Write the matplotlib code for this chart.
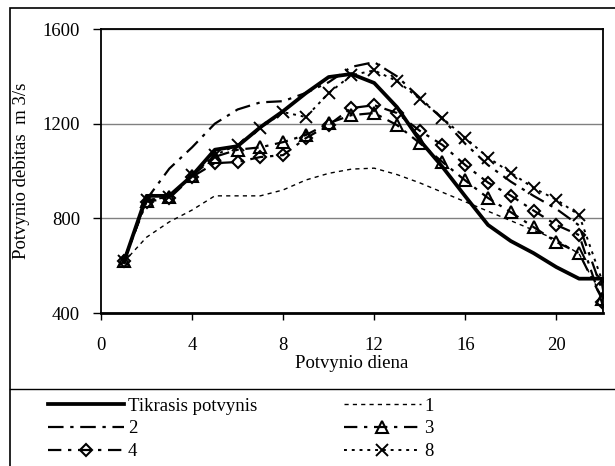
import matplotlib
matplotlib.use("Agg")
import matplotlib.pyplot as plt
from matplotlib.patches import Rectangle
from matplotlib.lines import Line2D

days = list(range(1, 24))
tikrasis = [615, 895, 895, 980, 1090, 1105, 1185, 1253, 1329, 1397, 1410, 1372,
            1270, 1130, 1017, 893, 772, 704, 653, 594, 545, 545, 0]
s1 = [615, 720, 785, 835, 895, 895, 895, 920, 962, 990, 1008, 1012,
      985, 950, 910, 870, 830, 790, 750, 710, 650, 470, 0]
s2 = [615, 880, 1010, 1100, 1200, 1260, 1290, 1295, 1330, 1375, 1440, 1460,
      1400, 1310, 1220, 1115, 1025, 955, 895, 840, 770, 500, 0]
s3 = [620, 875, 890, 980, 1060, 1090, 1100, 1122, 1152, 1202, 1236, 1245,
      1194, 1118, 1038, 960, 886, 826, 763, 700, 653, 460, 0]
s4 = [620, 870, 885, 975, 1033, 1038, 1059, 1067, 1139, 1194, 1266, 1278,
      1245, 1170, 1110, 1025, 951, 896, 833, 772, 729, 445, 0]
s8 = [620, 877, 890, 982, 1067, 1110, 1181, 1249, 1228, 1329, 1405, 1425,
      1380, 1305, 1223, 1140, 1057, 993, 928, 879, 814, 540, 0]

labels = ["Tikrasis potvynis", "1", "2", "3", "4", "8"]
xticks = [0, 4, 8, 12, 16, 20]
yticks = [400, 800, 1200, 1600]

plt.rcParams['font.family'] = ['Liberation Serif', 'DejaVu Serif']
FS = 13.5

fig = plt.figure(figsize=(6.15, 4.66), dpi=100)
W, H = 615, 466
ax = fig.add_axes([101 / W, (H - 313) / H, (603 - 101) / W, (313 - 29) / H])

h0, = ax.plot(days, tikrasis, color='black', lw=2.7, solid_joinstyle='round')
h1, = ax.plot(days, s1, color='black', lw=1.0, dashes=(3, 3))
h2, = ax.plot(days, s2, color='black', lw=1.6, dashes=(7, 3, 1.5, 3))
h3, = ax.plot(days, s3, color='black', lw=1.6, dashes=(6, 3, 1.5, 3),
              marker='^', ms=8.5, mfc='none', mec='black', mew=1.5)
h4, = ax.plot(days, s4, color='black', lw=1.6, dashes=(6, 3, 1.5, 3),
              marker='D', ms=6.5, mfc='none', mec='black', mew=1.5)
h8, = ax.plot(days, s8, color='black', lw=1.4, dashes=(1.5, 2.5),
              marker='x', ms=9, mec='black', mew=1.4)

ax.set_xlim(0, 22.05)
ax.set_ylim(400, 1600)
ax.set_xticks(xticks)
ax.set_yticks(yticks)
ax.set_xticklabels([str(t) for t in xticks], fontsize=FS)
ax.set_yticklabels([str(t) for t in yticks], fontsize=FS)
ax.tick_params(axis='x', direction='out', length=5, width=1, color='black', pad=12)
ax.tick_params(axis='y', direction='out', length=6, width=1, color='black', pad=9)
ax.yaxis.grid(True, color='#808080', lw=1)
ax.set_axisbelow(True)
for side in ['left', 'right', 'top']:
    ax.spines[side].set_linewidth(1.3)
ax.spines['bottom'].set_linewidth(2)
ax.set_xlabel("Potvynio diena", fontsize=FS, labelpad=1)
ax.set_ylabel("Potvynio debitas  m 3/s", fontsize=FS)
ax.yaxis.set_label_coords(-0.142, 0.5)

# outer frame and separator
fig.patches.append(Rectangle((10 / W, -0.1), 1.2, (H - 8) / H + 0.1,
                             transform=fig.transFigure, fill=False,
                             edgecolor='black', lw=1.2))
fig.lines.append(Line2D([10 / W, 1.0], [(H - 389) / H] * 2,
                        transform=fig.transFigure, color='black', lw=1.0))

handles = [h0, h2, h4, h1, h3, h8]
labs = [labels[0], labels[2], labels[4], labels[1], labels[3], labels[5]]
leg = fig.legend(handles, labs, loc='upper left',
                 bbox_to_anchor=(40 / W, (H - 390) / H), ncol=2,
                 frameon=False, fontsize=FS, handlelength=4.1,
                 handletextpad=0.2, labelspacing=0.3, columnspacing=4.6,
                 numpoints=1, borderaxespad=0)

fig.savefig("out.png", dpi=100)
